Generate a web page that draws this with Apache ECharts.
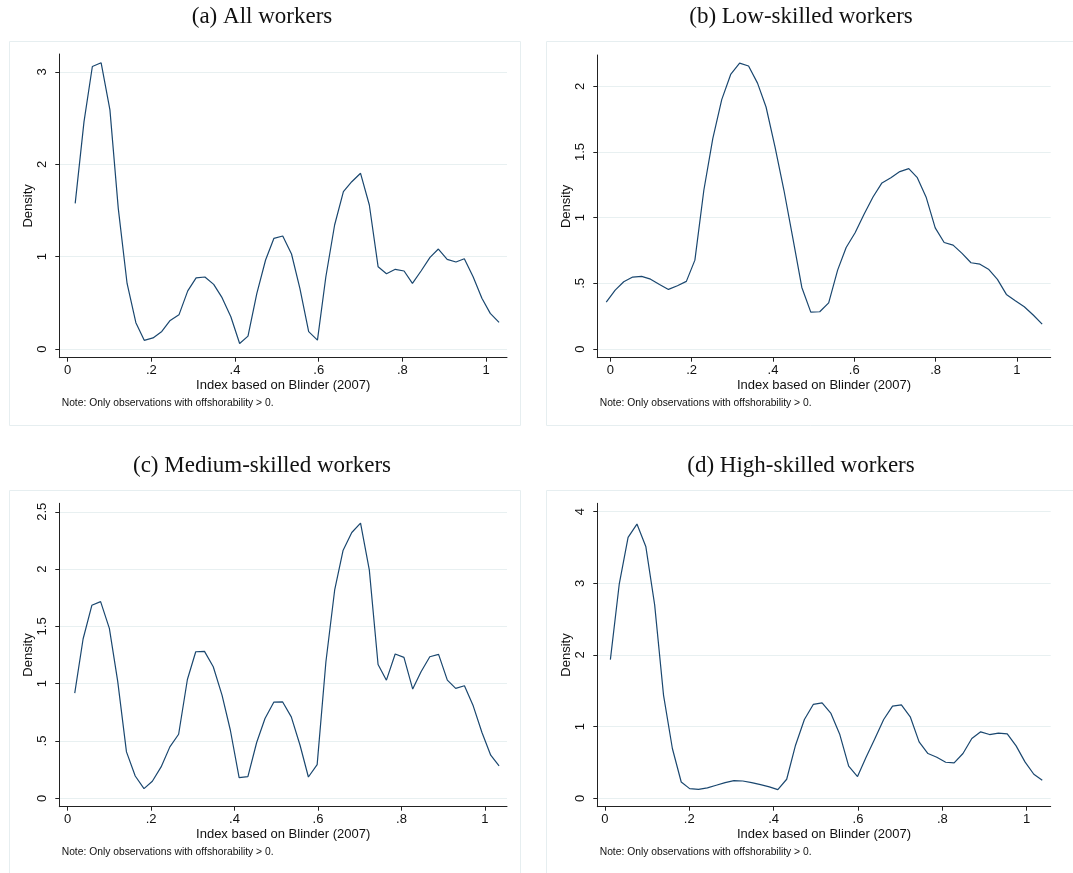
<!DOCTYPE html>
<html><head><meta charset="utf-8">
<script src="https://cdn.jsdelivr.net/npm/echarts@6/dist/echarts.min.js"></script>
<style>html,body{margin:0;padding:0;background:#fff}#c{width:1073px;height:873px}</style>
</head><body><div id="c"></div>
<script>
// ---- text ----
const panelTitles = ['(a) All workers', '(b) Low-skilled workers', '(c) Medium-skilled workers', '(d) High-skilled workers'];
const xAxisTitle = 'Index based on Blinder (2007)';
const yAxisTitle = 'Density';
const noteText = 'Note: Only observations with offshorability > 0.';

// ---- tick labels ----
const xTicks = [0, 0.2, 0.4, 0.6, 0.8, 1];
const yTicksA = [0, 1, 2, 3];
const yTicksB = [0, 0.5, 1, 1.5, 2];
const yTicksC = [0, 0.5, 1, 1.5, 2, 2.5];
const yTicksD = [0, 1, 2, 3, 4];

// ---- (a) All workers ----
const xA = [0.018,0.039,0.059,0.080,0.101,0.121,0.142,0.163,0.183,0.204,0.225,0.245,0.266,0.287,0.307,0.328,0.349,0.369,0.390,0.411,0.431,0.452,0.473,0.493,0.514,0.535,0.555,0.576,0.597,0.617,0.638,0.659,0.679,0.700,0.721,0.742,0.762,0.783,0.804,0.824,0.845,0.866,0.886,0.907,0.928,0.948,0.969,0.990,1.010,1.031];
const yA = [1.578,2.46,3.06,3.10,2.59,1.52,0.71,0.285,0.094,0.12,0.19,0.31,0.37,0.63,0.77,0.78,0.70,0.556,0.35,0.06,0.14,0.60,0.964,1.199,1.224,1.029,0.657,0.188,0.097,0.78,1.343,1.704,1.812,1.903,1.56,0.89,0.816,0.863,0.845,0.711,0.848,0.993,1.083,0.971,0.942,0.978,0.783,0.549,0.386,0.289];

// ---- (b) Low-skilled workers ----
const xB = [-0.010,0.012,0.033,0.055,0.077,0.099,0.121,0.143,0.165,0.187,0.208,0.230,0.252,0.274,0.296,0.318,0.340,0.362,0.383,0.405,0.427,0.449,0.471,0.493,0.515,0.537,0.559,0.580,0.602,0.624,0.646,0.668,0.690,0.712,0.734,0.755,0.777,0.799,0.821,0.843,0.865,0.887,0.909,0.930,0.952,0.974,0.996,1.018,1.040,1.062];
const yB = [0.357,0.449,0.512,0.548,0.553,0.532,0.492,0.454,0.482,0.515,0.677,1.209,1.602,1.899,2.091,2.177,2.155,2.025,1.843,1.539,1.209,0.842,0.469,0.281,0.284,0.352,0.601,0.773,0.885,1.027,1.158,1.265,1.305,1.351,1.374,1.305,1.153,0.923,0.811,0.791,0.728,0.657,0.646,0.608,0.530,0.416,0.368,0.322,0.259,0.190];

// ---- (c) Medium-skilled workers ----
const xC = [0.017,0.037,0.058,0.079,0.100,0.120,0.141,0.162,0.183,0.203,0.224,0.245,0.266,0.287,0.307,0.328,0.349,0.370,0.390,0.411,0.432,0.453,0.473,0.494,0.515,0.536,0.557,0.577,0.598,0.619,0.640,0.660,0.681,0.702,0.723,0.744,0.764,0.785,0.806,0.827,0.847,0.868,0.889,0.910,0.930,0.951,0.972,0.993,1.014,1.034];
const yC = [0.918,1.39,1.684,1.716,1.483,1.02,0.405,0.195,0.085,0.149,0.274,0.449,0.559,1.037,1.279,1.282,1.148,0.900,0.594,0.181,0.189,0.487,0.696,0.839,0.842,0.711,0.463,0.186,0.294,1.192,1.818,2.162,2.319,2.401,1.993,1.168,1.031,1.259,1.230,0.953,1.104,1.235,1.256,1.031,0.959,0.982,0.807,0.574,0.376,0.283];

// ---- (d) High-skilled workers ----
const xD = [0.013,0.034,0.055,0.076,0.097,0.118,0.139,0.160,0.181,0.201,0.222,0.243,0.264,0.285,0.306,0.327,0.348,0.369,0.390,0.410,0.431,0.452,0.473,0.494,0.515,0.536,0.557,0.578,0.599,0.619,0.640,0.661,0.682,0.703,0.724,0.745,0.766,0.787,0.808,0.828,0.849,0.870,0.891,0.912,0.933,0.954,0.975,0.996,1.017,1.037];
const yD = [1.935,2.988,3.641,3.827,3.515,2.699,1.441,0.695,0.228,0.135,0.126,0.145,0.182,0.219,0.247,0.242,0.219,0.191,0.159,0.121,0.266,0.741,1.100,1.31,1.333,1.184,0.890,0.448,0.303,0.57,0.83,1.100,1.287,1.305,1.138,0.788,0.625,0.573,0.503,0.494,0.625,0.834,0.928,0.890,0.909,0.900,0.732,0.508,0.336,0.252];

// ---- layout ----
const panels = [
  {x: xA, y: yA, yt: yTicksA, grid: {left: 59.3, top: 54, width: 447.7, height: 303.7}, xr: [-0.020, 1.050], yr: [-0.094, 3.195], box: [9.5, 41.5, 511, 384], tx: 262, ty: 17},
  {x: xB, y: yB, yt: yTicksB, grid: {left: 597.3, top: 55, width: 453.4, height: 302.7}, xr: [-0.032, 1.083], yr: [-0.066, 2.239], box: [546.5, 41.5, 540, 384], tx: 801, ty: 17},
  {x: xC, y: yC, yt: yTicksC, grid: {left: 59.3, top: 503.3, width: 447.7, height: 303.4}, xr: [-0.020, 1.053], yr: [-0.073, 2.574], box: [9.5, 490.5, 511, 400], tx: 262, ty: 466},
  {x: xD, y: yD, yt: yTicksD, grid: {left: 597.3, top: 503.3, width: 453.4, height: 303.4}, xr: [-0.018, 1.057], yr: [-0.117, 4.117], box: [546.5, 490.5, 540, 400], tx: 801, ty: 466}
];

const SANS = "'Liberation Sans', Arial, Helvetica, sans-serif";
const SERIF = "'Liberation Serif', 'Times New Roman', serif";
const AX = '#222';
const fmt = v => (v === 0 ? '0' : String(+Number(v).toFixed(2)).replace(/^0\./, '.'));

const option = {
  backgroundColor: '#fff',
  animation: false,
  grid: [], xAxis: [], yAxis: [], series: [], graphic: []
};

panels.forEach((p, i) => {
  option.grid.push(Object.assign({containLabel: false}, p.grid));
  option.xAxis.push({
    type: 'value', gridIndex: i, min: p.xr[0], max: p.xr[1],
    name: xAxisTitle, nameLocation: 'middle', nameGap: 21,
    nameTextStyle: {fontFamily: SANS, fontSize: 13, color: '#111'},
    axisLine: {show: true, onZero: false, lineStyle: {color: AX, width: 1}},
    axisTick: {show: true, length: 4, lineStyle: {color: AX}, customValues: xTicks},
    axisLabel: {fontFamily: SANS, fontSize: 13, color: '#111', margin: 6, customValues: xTicks, formatter: fmt},
    splitLine: {show: false}
  });
  option.yAxis.push({
    type: 'value', gridIndex: i, min: p.yr[0], max: p.yr[1],
    name: yAxisTitle, nameLocation: 'middle', nameGap: 23,
    nameTextStyle: {fontFamily: SANS, fontSize: 13, color: '#111'},
    axisLine: {show: true, onZero: false, lineStyle: {color: AX, width: 1}},
    axisTick: {show: true, length: 4, lineStyle: {color: AX}, customValues: p.yt},
    axisLabel: {fontFamily: SANS, fontSize: 13, color: '#111', margin: 10, rotate: 90, customValues: p.yt, formatter: fmt},
    splitLine: {show: true, lineStyle: {color: '#e8f0f1', width: 1}}
  });
  option.series.push({
    type: 'line', xAxisIndex: i, yAxisIndex: i,
    data: p.x.map((xv, k) => [xv, p.y[k]]),
    showSymbol: false, symbol: 'none', smooth: false, silent: true,
    lineStyle: {color: '#1a476f', width: 1.2}
  });
  option.graphic.push({
    type: 'rect', z: 0, silent: true,
    shape: {x: p.box[0], y: p.box[1], width: p.box[2], height: p.box[3]},
    style: {fill: 'none', stroke: '#e6eef0', lineWidth: 1}
  });
  option.graphic.push({
    type: 'text', silent: true, x: p.tx, y: p.ty,
    style: {text: panelTitles[i], font: '23px ' + SERIF, fill: '#111',
            align: 'center', verticalAlign: 'middle', textAlign: 'center', textVerticalAlign: 'middle'}
  });
  option.graphic.push({
    type: 'text', silent: true, x: p.grid.left + 2.4, y: p.grid.top + p.grid.height + 45,
    style: {text: noteText, font: '10.3px ' + SANS, fill: '#111',
            align: 'left', verticalAlign: 'middle', textAlign: 'left', textVerticalAlign: 'middle'}
  });
});

const chart = echarts.init(document.getElementById('c'), null, {renderer: 'canvas'});
chart.setOption(option);
</script></body></html>
